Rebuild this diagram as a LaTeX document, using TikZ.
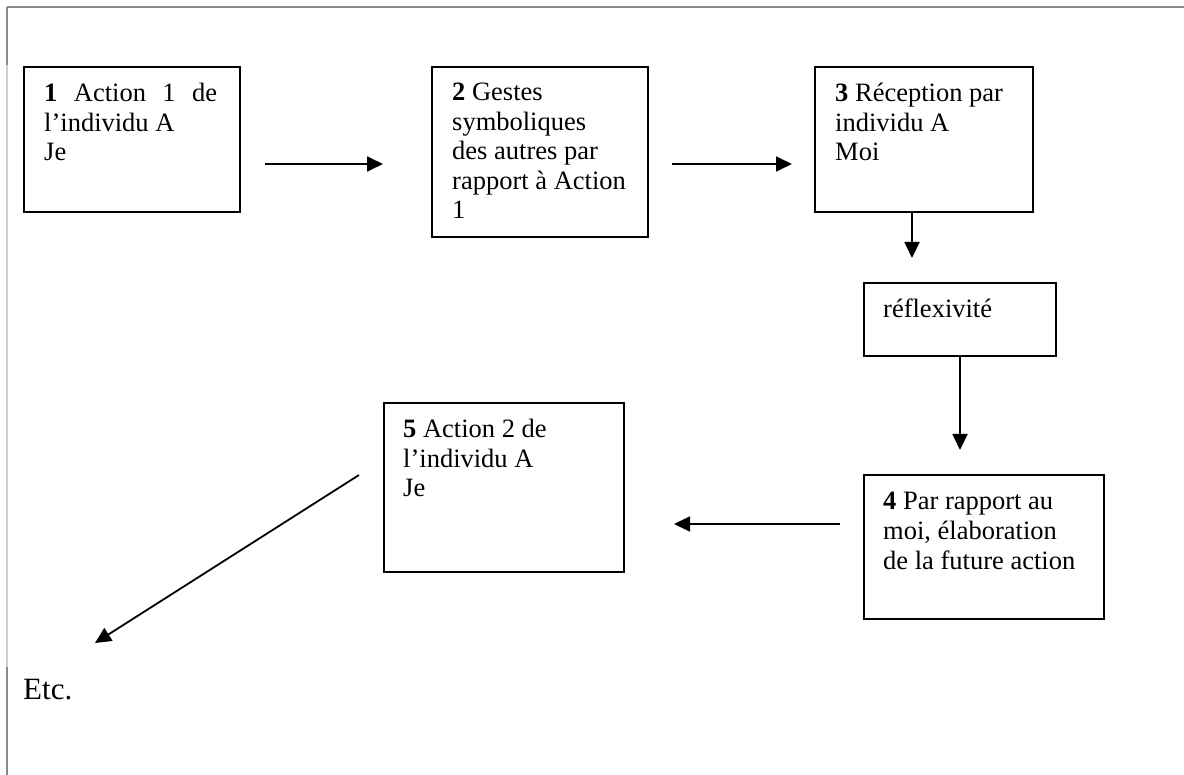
\documentclass[tikz,border=0pt]{standalone}
\usepackage{fontspec}
\setmainfont{Liberation Serif}
\usetikzlibrary{arrows.meta}
\definecolor{framedark}{HTML}{8A8A8A}
\definecolor{framelight}{HTML}{CFCFCF}
\begin{document}
\begin{tikzpicture}[x=1pt,y=-1pt,
  box/.style={draw=black, line width=2pt, inner sep=0pt, anchor=north west},
  txt/.style={anchor=base west, inner sep=0pt, font=\fontsize{26.5}{29.5}\selectfont},
  arr/.style={line width=1.8pt, -{Triangle[length=16pt,width=15pt]}},
  framedk/.style={draw=framedark, line width=2pt},
  framelt/.style={draw=framelight, line width=2pt}
]
\useasboundingbox (0,0) rectangle (1184,775);
% page frame
\draw[framedk] (7,7) -- (1184,7);
\draw[framedk] (7,7) -- (7,65);
\draw[framelt] (7,65) -- (7,667);
\draw[framedk] (7,667) -- (7,775);

% boxes
\node[box, minimum width=216pt, minimum height=145pt] (b1) at (23,66) {};
\node[box, minimum width=216pt, minimum height=170pt] (b2) at (431,66) {};
\node[box, minimum width=218pt, minimum height=145pt] (b3) at (814,66) {};
\node[box, minimum width=192pt, minimum height=73pt]  (rf) at (863,282) {};
\node[box, minimum width=240pt, minimum height=144pt] (b4) at (863,474) {};
\node[box, minimum width=240pt, minimum height=169pt] (b5) at (383,402) {};

% texts
\node[txt] (t1) at ([shift={(21,36)}]b1.north west) {\parbox[t]{195pt}{\makebox[173pt][s]{\textbf{1} Action 1 de}\\l’individu A\\Je}};
\node[txt] (t2) at ([shift={(21,35)}]b2.north west) {\parbox[t]{200pt}{\textbf{2} Gestes\\symboliques\\des autres par\\rapport à Action\\1}};
\node[txt] (t3) at ([shift={(21,36)}]b3.north west) {\parbox[t]{200pt}{\textbf{3} Réception par\\individu A\\Moi}};
\node[txt] (tr) at ([shift={(20,36)}]rf.north west) {\parbox[t]{170pt}{réflexivité}};
\node[txt] (t4) at ([shift={(20,36)}]b4.north west) {\parbox[t]{225pt}{\textbf{4} Par rapport au\\moi, élaboration\\de la future action}};
\node[txt] (t5) at ([shift={(20,36)}]b5.north west) {\parbox[t]{220pt}{\textbf{5} Action 2 de\\l’individu A\\Je}};
\node[anchor=base west, inner sep=0pt, font=\fontsize{31}{36}\selectfont] (etc) at (23,699) {Etc.};
\coordinate (etctip) at (95,643);

% connectors
\draw[arr] ([shift={(24,24.5)}]b1.east) -- ([shift={(-48,12)}]b2.west);
\draw[arr] ([shift={(23,12)}]b2.east) -- ([shift={(-22,24.5)}]b3.west);
\draw[arr] ([shift={(-12,0)}]b3.south) -- ([shift={(-48,-24)}]rf.north);
\draw[arr] (rf.south) -- ([shift={(-24,-24)}]b4.north);
\draw[arr] ([shift={(-23,-23)}]b4.west) -- ([shift={(49,36.5)}]b5.east);
\draw[arr] ([shift={(-24,-12.5)}]b5.west) -- (etctip);
\end{tikzpicture}
\end{document}
